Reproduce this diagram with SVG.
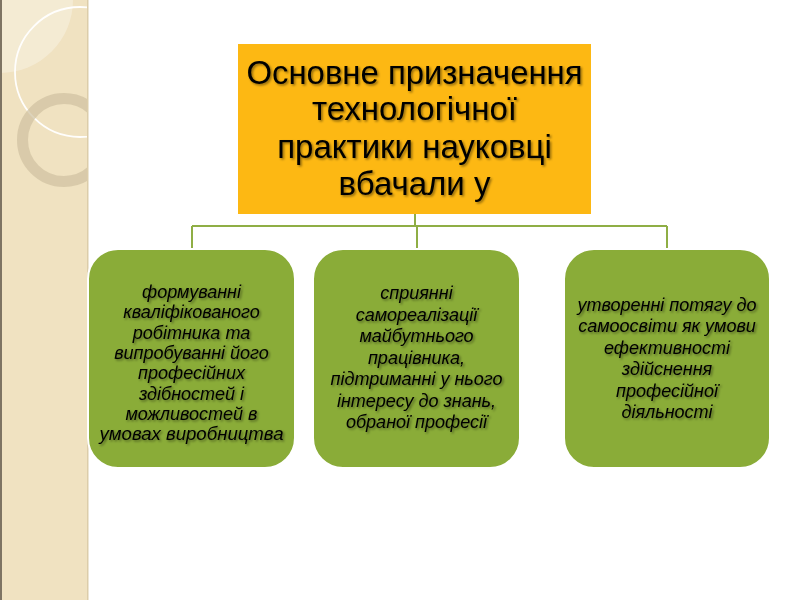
<svg xmlns="http://www.w3.org/2000/svg" width="800" height="600" viewBox="0 0 800 600">
  <defs>
    <filter id="sh" x="-10%" y="-20%" width="130%" height="150%">
      <feDropShadow dx="1.5" dy="1.5" stdDeviation="1" flood-color="#000" flood-opacity="0.45"/>
    </filter>
    <clipPath id="band"><rect x="0" y="0" width="88" height="600"/></clipPath>
  </defs>
  <style>
    .title { font-family: "Liberation Sans", Arial, sans-serif; font-size: 33px; fill: #000; text-anchor: middle; }
    .item { font-family: "Liberation Sans", Arial, sans-serif; font-size: 18px; font-style: italic; fill: #000; text-anchor: middle; }
    .box { fill: #8AAC38; stroke: #FFFFFF; stroke-width: 2; }
    .conn { stroke: #8FAE45; stroke-width: 2; fill: none; }
  </style>
  <rect x="0" y="0" width="800" height="600" fill="#FFFFFF"/>
  <!-- decorative band -->
  <g id="band-deco">
    <rect x="0" y="0" width="88" height="600" fill="#F0E2C1"/>
    <g clip-path="url(#band)">
      <circle cx="0" cy="0" r="73" fill="#FFFFFF" fill-opacity="0.3"/>
      <circle cx="80" cy="72" r="65" fill="none" stroke="#FFFFFF" stroke-width="1.8" stroke-opacity="0.95"/>
      <circle cx="64" cy="140" r="41.5" fill="none" stroke="#CFC1A0" stroke-width="11" stroke-opacity="0.7"/>
    </g>
    <rect x="0" y="0" width="2" height="600" fill="#7E7463"/>
    <rect x="87" y="0" width="1.5" height="600" fill="#DCCDAA"/>
  </g>
  <g id="connectors">
    <path class="conn" d="M415 214 V226 M192 226 H667 M192 226 V249 M417 226 V249 M667 226 V249"/>
  </g>
  <g id="root">
    <rect x="238" y="44" width="353" height="170" fill="#FDB813"/>
    <g filter="url(#sh)">
      <text class="title" x="414.5" y="84" textLength="336" lengthAdjust="spacingAndGlyphs">Основне призначення</text>
      <text class="title" x="414.5" y="120">технологічної</text>
      <text class="title" x="414.5" y="158">практики науковці</text>
      <text class="title" x="414.5" y="195">вбачали у</text>
    </g>
  </g>
  <g id="node1">
    <rect class="box" x="88" y="249" width="207" height="219" rx="30" ry="30"/>
    <g filter="url(#sh)">
      <text class="item" x="191.5" y="298">формуванні</text>
      <text class="item" x="191.5" y="318.3">кваліфікованого</text>
      <text class="item" x="191.5" y="338.6">робітника та</text>
      <text class="item" x="191.5" y="358.9">випробуванні його</text>
      <text class="item" x="191.5" y="379.2">професійних</text>
      <text class="item" x="191.5" y="399.5">здібностей і</text>
      <text class="item" x="191.5" y="419.8">можливостей в</text>
      <text class="item" x="191.5" y="440" textLength="184" lengthAdjust="spacingAndGlyphs">умовах виробництва</text>
    </g>
  </g>
  <g id="node2">
    <rect class="box" x="313" y="249" width="207" height="219" rx="30" ry="30"/>
    <g filter="url(#sh)">
      <text class="item" x="416.5" y="299">сприянні</text>
      <text class="item" x="416.5" y="320.5">самореалізації</text>
      <text class="item" x="416.5" y="342">майбутнього</text>
      <text class="item" x="416.5" y="363.5">працівника,</text>
      <text class="item" x="416.5" y="385">підтриманні у нього</text>
      <text class="item" x="416.5" y="406.5">інтересу до знань,</text>
      <text class="item" x="416.5" y="428">обраної професії</text>
    </g>
  </g>
  <g id="node3">
    <rect class="box" x="564" y="249" width="206" height="219" rx="30" ry="30"/>
    <g filter="url(#sh)">
      <text class="item" x="667" y="311">утворенні потягу до</text>
      <text class="item" x="667" y="332.4">самоосвіти як умови</text>
      <text class="item" x="667" y="353.8">ефективності</text>
      <text class="item" x="667" y="375.2">здійснення</text>
      <text class="item" x="667" y="396.6">професійної</text>
      <text class="item" x="667" y="418">діяльності</text>
    </g>
  </g>
</svg>
